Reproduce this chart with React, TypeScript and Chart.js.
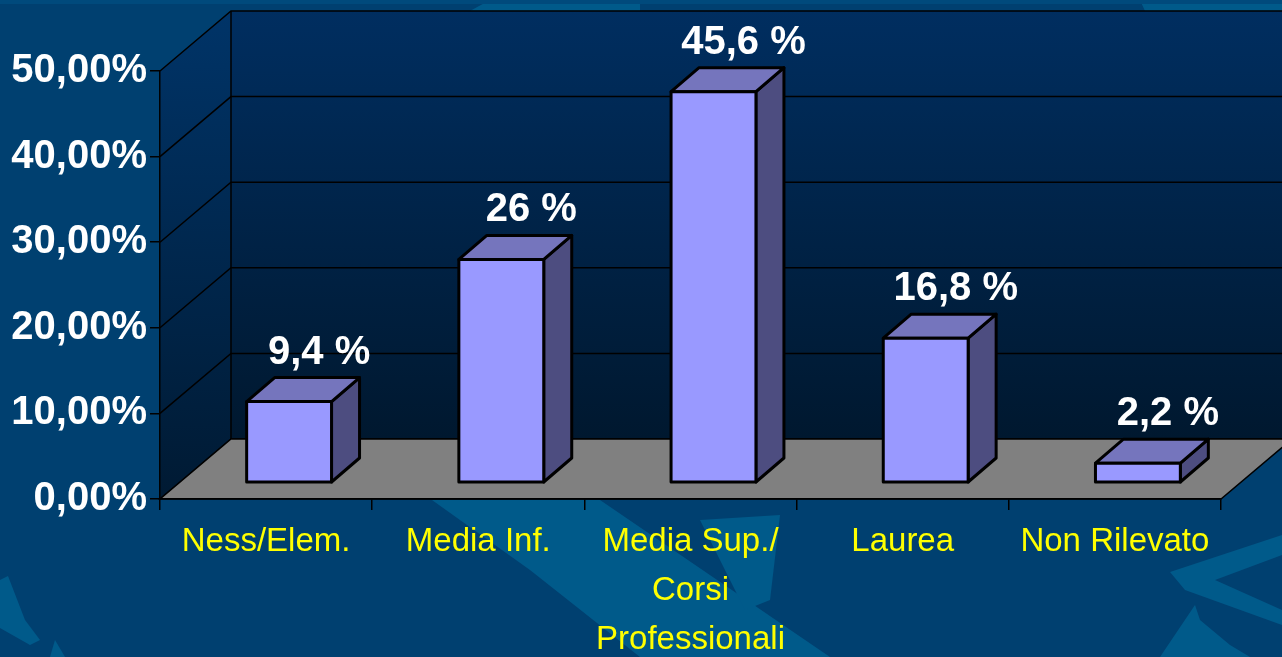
import React, { useEffect, useRef } from "react";
import { Chart, registerables } from "chart.js";

Chart.register(...registerables);

const categories: string[][] = [
  ["Ness/Elem."],
  ["Media Inf."],
  ["Media Sup./", "Corsi", "Professionali"],
  ["Laurea"],
  ["Non Rilevato"],
];
const values: number[] = [9.4, 26, 45.6, 16.8, 2.2];
const valueLabels: string[] = ["9,4 %", "26 %", "45,6 %", "16,8 %", "2,2 %"];
const yTickLabels: string[] = ["0,00%", "10,00%", "20,00%", "30,00%", "40,00%", "50,00%"];

const FONT = '"Liberation Sans", Arial, Helvetica, sans-serif';
const WALL_DX = 71;
const WALL_DY = 60;
const BAR_SX = 23;
const BAR_SY = 17;
const BAR_DX = 28;
const BAR_DY = 24;

function poly(ctx: CanvasRenderingContext2D, pts: number[][]) {
  ctx.beginPath();
  ctx.moveTo(pts[0][0], pts[0][1]);
  for (let i = 1; i < pts.length; i++) ctx.lineTo(pts[i][0], pts[i][1]);
  ctx.closePath();
}

const scenePlugin = {
  id: "scene3d",
  beforeDraw(chart: any) {
    const ctx: CanvasRenderingContext2D = chart.ctx;
    const W = chart.width;
    const H = chart.height;
    ctx.save();
    // page background
    ctx.fillStyle = "#004070";
    ctx.fillRect(0, 0, W, H);
    // decorative lighter shapes
    ctx.fillStyle = "#005a8a";
    poly(ctx, [[432, 500], [600, 500], [830, 657], [640, 657], [530, 570]]);
    ctx.fill();
    poly(ctx, [[700, 520], [780, 515], [770, 600], [745, 610]]);
    ctx.fill();
    poly(ctx, [[0, 580], [8, 576], [25, 620], [40, 640], [30, 645], [0, 628]]);
    ctx.fill();
    poly(ctx, [[55, 640], [65, 657], [50, 657]]);
    ctx.fill();
    poly(ctx, [[1170, 572], [1282, 535], [1282, 555], [1215, 580], [1282, 610], [1282, 625], [1185, 590]]);
    ctx.fill();
    poly(ctx, [[1160, 657], [1195, 605], [1200, 620], [1230, 645], [1250, 657]]);
    ctx.fill();
    poly(ctx, [[470, 11], [490, 0], [640, 0], [640, 11]]);
    ctx.fill();
    poly(ctx, [[1145, 11], [1140, 0], [1282, 0], [1282, 11]]);
    ctx.fill();
    ctx.fillStyle = "#004a7c";
    poly(ctx, [[0, 0], [1282, 0], [1282, 4], [0, 4]]);
    ctx.fill();

    const { left, right, top, bottom } = chart.chartArea;
    const y = chart.scales.y;
    // back wall
    const gBack = ctx.createLinearGradient(0, top - WALL_DY, 0, bottom - WALL_DY);
    gBack.addColorStop(0, "#002e60");
    gBack.addColorStop(1, "#00182f");
    ctx.fillStyle = gBack;
    poly(ctx, [
      [left + WALL_DX, top - WALL_DY],
      [right + WALL_DX, top - WALL_DY],
      [right + WALL_DX, bottom - WALL_DY],
      [left + WALL_DX, bottom - WALL_DY],
    ]);
    ctx.fill();
    // side wall
    const gSide = ctx.createLinearGradient(0, top - WALL_DY, 0, bottom);
    gSide.addColorStop(0, "#003468");
    gSide.addColorStop(1, "#001a33");
    ctx.fillStyle = gSide;
    poly(ctx, [
      [left, top],
      [left + WALL_DX, top - WALL_DY],
      [left + WALL_DX, bottom - WALL_DY],
      [left, bottom],
    ]);
    ctx.fill();
    // gridlines
    ctx.strokeStyle = "#000000";
    ctx.lineWidth = 1.5;
    for (const t of y.ticks) {
      const yy = y.getPixelForValue(t.value);
      ctx.beginPath();
      ctx.moveTo(left, yy);
      ctx.lineTo(left + WALL_DX, yy - WALL_DY);
      ctx.lineTo(right + WALL_DX, yy - WALL_DY);
      ctx.stroke();
    }
    ctx.beginPath();
    ctx.moveTo(left + WALL_DX, top - WALL_DY);
    ctx.lineTo(left + WALL_DX, bottom - WALL_DY);
    ctx.stroke();
    // floor
    ctx.fillStyle = "#808080";
    poly(ctx, [
      [left, bottom],
      [left + WALL_DX, bottom - WALL_DY],
      [right + WALL_DX, bottom - WALL_DY],
      [right, bottom],
    ]);
    ctx.fill();
    ctx.stroke();
    ctx.restore();
  },
  afterDatasetsDraw(chart: any) {
    const ctx: CanvasRenderingContext2D = chart.ctx;
    const y = chart.scales.y;
    const meta = chart.getDatasetMeta(0);
    const yBase = y.getPixelForValue(0);
    ctx.save();
    ctx.lineWidth = 3;
    ctx.lineJoin = "round";
    ctx.strokeStyle = "#000000";
    meta.data.forEach((el: any, i: number) => {
      const v = values[i];
      const x0 = el.x - el.width / 2 + BAR_SX;
      const x1 = el.x + el.width / 2 + BAR_SX;
      const yt = y.getPixelForValue(v) - BAR_SY;
      const yb = yBase - BAR_SY;
      // side face
      ctx.fillStyle = "#4d4d80";
      poly(ctx, [[x1, yt], [x1 + BAR_DX, yt - BAR_DY], [x1 + BAR_DX, yb - BAR_DY], [x1, yb]]);
      ctx.fill();
      ctx.stroke();
      // top face
      ctx.fillStyle = "#7575bd";
      poly(ctx, [[x0, yt], [x0 + BAR_DX, yt - BAR_DY], [x1 + BAR_DX, yt - BAR_DY], [x1, yt]]);
      ctx.fill();
      ctx.stroke();
      // front face
      ctx.fillStyle = "#9999ff";
      poly(ctx, [[x0, yt], [x1, yt], [x1, yb], [x0, yb]]);
      ctx.fill();
      ctx.stroke();
      // value label
      ctx.fillStyle = "#ffffff";
      ctx.font = `bold 40px ${FONT}`;
      ctx.textAlign = "center";
      ctx.textBaseline = "middle";
      ctx.fillText(valueLabels[i], (x0 + x1) / 2 + 30, yt - BAR_DY - 25);
    });
    ctx.restore();
  },
};

export default function App() {
  const canvasRef = useRef<HTMLCanvasElement | null>(null);

  useEffect(() => {
    document.body.style.margin = "0";
    document.body.style.background = "#004070";
    const canvas = canvasRef.current;
    if (!canvas) return;
    const chart = new Chart(canvas, {
      type: "bar",
      data: {
        labels: categories,
        datasets: [
          {
            data: values,
            backgroundColor: "rgba(0,0,0,0)",
            borderWidth: 0,
            barPercentage: 0.4,
            categoryPercentage: 1,
          },
        ],
      },
      options: {
        animation: false,
        responsive: false,
        maintainAspectRatio: false,
        devicePixelRatio: 1,
        layout: { padding: { left: 0, right: 61, top: 71, bottom: 0 } },
        plugins: {
          legend: { display: false },
          tooltip: { enabled: false },
          title: { display: false },
        },
        scales: {
          x: {
            offset: true,
            grid: {
              offset: true,
              drawOnChartArea: false,
              drawTicks: true,
              tickLength: 11,
              color: "#000000",
              lineWidth: 1.5,
            },
            border: { display: true, color: "#000000", width: 1.5 },
            ticks: {
              color: "#ffff00",
              font: { family: FONT, size: 33, lineHeight: "49px" },
              padding: 7,
              maxRotation: 0,
              autoSkip: false,
            },
            afterFit: (s: any) => {
              s.height = 158;
            },
          },
          y: {
            min: 0,
            max: 50,
            ticks: {
              stepSize: 10,
              color: "#ffffff",
              font: { family: FONT, size: 40, weight: "bold" },
              padding: 3,
              callback: (_v: any, i: number) => yTickLabels[i],
            },
            grid: {
              drawOnChartArea: false,
              drawTicks: true,
              tickLength: 10,
              color: "#000000",
              lineWidth: 1.5,
            },
            border: { display: true, color: "#000000", width: 1.5 },
            afterFit: (s: any) => {
              s.width = 160;
            },
          },
        },
      },
      plugins: [scenePlugin],
    });
    return () => chart.destroy();
  }, []);

  return (
    <div style={{ width: 1282, height: 657, overflow: "hidden" }}>
      <canvas ref={canvasRef} width={1282} height={657} style={{ display: "block" }} />
    </div>
  );
}
